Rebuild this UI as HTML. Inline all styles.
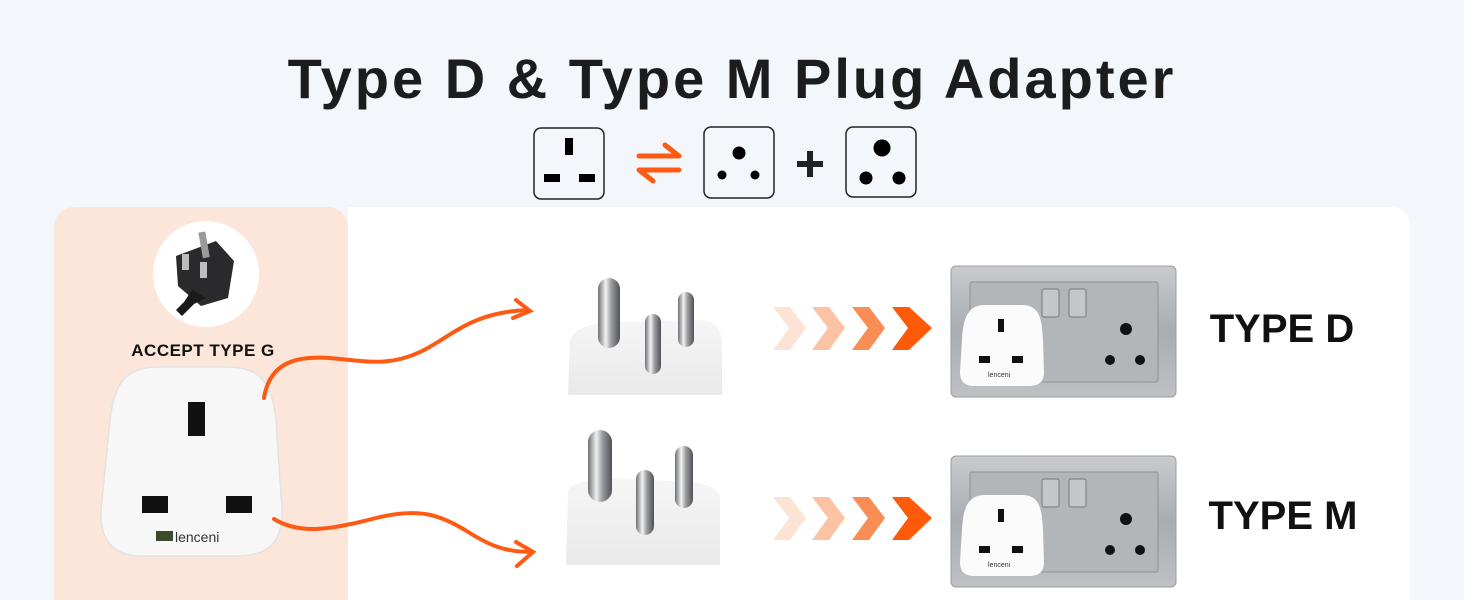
<!DOCTYPE html>
<html><head><meta charset="utf-8"><style>
html,body{margin:0;padding:0;width:1464px;height:600px;overflow:hidden;background:#f3f7fb;font-family:"Liberation Sans",sans-serif}
</style></head><body>
<svg width="1464" height="600" viewBox="0 0 1464 600" xmlns="http://www.w3.org/2000/svg">
<defs>
<linearGradient id="plate" x1="0" y1="0" x2="0" y2="1"><stop offset="0" stop-color="#c9cbce"/><stop offset="0.5" stop-color="#a9acb0"/><stop offset="1" stop-color="#bfc1c4"/></linearGradient>
<linearGradient id="pin" x1="0" y1="0" x2="1" y2="0"><stop offset="0" stop-color="#6d6f72"/><stop offset="0.35" stop-color="#f2f2f2"/><stop offset="0.6" stop-color="#9a9c9f"/><stop offset="1" stop-color="#4f5154"/></linearGradient>
<linearGradient id="body" x1="0" y1="0" x2="0" y2="1"><stop offset="0" stop-color="#f6f6f6"/><stop offset="1" stop-color="#e9e9e9"/></linearGradient>
</defs>
<rect x="0" y="0" width="1464" height="600" fill="#f3f7fb"/>
<path d="M348 207 H1392 a18 18 0 0 1 18 18 V600 H348 Z" fill="#ffffff"/>
<path d="M74 207 H328 a20 20 0 0 1 20 20 V600 H54 V227 a20 20 0 0 1 20 -20 Z" fill="#fce6da"/>
<text x="732" y="98" text-anchor="middle" font-family="Liberation Sans,sans-serif" font-weight="bold" font-size="56" fill="#1c1c1e" letter-spacing="3">Type D &amp; Type M Plug Adapter</text>
<!-- icons -->
<rect x="534" y="128" width="70" height="71" rx="7" fill="#f3f7fb" stroke="#222" stroke-width="1.5"/>
<rect x="565" y="138" width="8" height="17" fill="#000"/>
<rect x="544" y="174" width="16" height="8" fill="#000"/>
<rect x="579" y="174" width="16" height="8" fill="#000"/>
<g stroke="#ff5a14" stroke-width="5" stroke-linecap="round" fill="none">
<path d="M639 156 H679 M665 145 L679 156"/><path d="M679 170 H639 M653 181 L639 170"/></g>
<rect x="704" y="127" width="70" height="71" rx="7" fill="#f3f7fb" stroke="#222" stroke-width="1.5"/>
<circle cx="739" cy="153" r="6.5" fill="#000"/><circle cx="722" cy="175" r="4.5" fill="#000"/><circle cx="755" cy="175" r="4.5" fill="#000"/>
<path d="M797 164 H823 M810 151 V177" stroke="#222" stroke-width="6"/>
<rect x="846" y="127" width="70" height="70" rx="7" fill="#f3f7fb" stroke="#222" stroke-width="1.5"/>
<circle cx="882" cy="148" r="8.5" fill="#000"/><circle cx="866" cy="178" r="6.5" fill="#000"/><circle cx="899" cy="178" r="6.5" fill="#000"/>
<!-- left type G plug -->
<circle cx="206" cy="274" r="53" fill="#fff"/>
<g transform="translate(206,276)">
<path d="M-30 -20 L10 -35 L28 -15 L22 22 L-5 30 L-28 10 Z" fill="#2a2a2c"/>
<path d="M-14 14 L-22 26 L-30 34 L-24 40 L-12 28 L0 22 Z" fill="#1a1a1a"/>
<rect x="0" y="-44" width="7" height="26" fill="#9a9a9a" transform="rotate(-10)"/>
<rect x="-24" y="-22" width="7" height="16" fill="#bdbdbd"/>
<rect x="-6" y="-14" width="7" height="16" fill="#bdbdbd"/>
</g>
<text x="203" y="356" text-anchor="middle" font-weight="bold" font-size="17" fill="#111" letter-spacing="0.5">ACCEPT TYPE G</text>
<path d="M158 367 H228 C262 367 272 385 276 420 L282 510 C283 540 270 555 240 556 H140 C112 555 100 540 101 510 L110 420 C114 385 124 367 158 367 Z" fill="#f7f7f7" stroke="#e2e2e2" stroke-width="1.5"/>
<rect x="188" y="402" width="17" height="34" fill="#111"/>
<rect x="142" y="496" width="26" height="17" fill="#111"/>
<rect x="226" y="496" width="26" height="17" fill="#111"/>
<rect x="156" y="531" width="17" height="10" fill="#3a4a2a"/>
<text x="175" y="542" font-size="14" fill="#333">lenceni</text>
<!-- curves -->
<g stroke="#ff5a14" stroke-width="4" fill="none" stroke-linecap="round">
<path d="M264 398 C270 360 300 356 330 358 C370 362 390 366 420 352 C450 338 470 312 528 310"/>
<path d="M516 300 L530 311 L513 318"/>
<path d="M274 519 C300 535 330 530 380 517 C420 508 440 515 465 530 C490 546 505 552 532 552"/>
<path d="M516 542 L533 552 L517 566"/>
</g>
<!-- type D plug -->
<g>
<path d="M570 340 Q575 325 610 322 L700 320 Q722 320 722 345 L722 395 H568 Z" fill="url(#body)"/>
<rect x="598" y="278" width="22" height="70" rx="11" fill="url(#pin)"/>
<rect x="645" y="314" width="16" height="60" rx="8" fill="url(#pin)"/>
<rect x="678" y="292" width="16" height="55" rx="8" fill="url(#pin)"/>
</g>
<g>
<path d="M568 490 Q575 480 610 478 L690 482 Q720 485 720 500 L720 565 H566 Z" fill="url(#body)"/>
<rect x="588" y="430" width="24" height="72" rx="12" fill="url(#pin)"/>
<rect x="636" y="470" width="18" height="65" rx="9" fill="url(#pin)"/>
<rect x="675" y="446" width="18" height="62" rx="9" fill="url(#pin)"/>
</g>
<!-- chevrons -->
<g id="chev">
<path d="M773 307 H790 L806 328 L790 350 H773 L789 328 Z" fill="#fde3d6"/>
<path d="M812 307 H829 L845 328 L829 350 H812 L828 328 Z" fill="#fbc3a4"/>
<path d="M852 307 H869 L885 328 L869 350 H852 L868 328 Z" fill="#fa8d55"/>
<path d="M892 307 H909 L932 328 L909 350 H892 L908 328 Z" fill="#ff5a0a"/>
</g>
<use href="#chev" y="190"/>
<!-- sockets -->
<g id="sock">
<rect x="951" y="266" width="225" height="131" rx="5" fill="url(#plate)" stroke="#9a9da0"/>
<rect x="970" y="282" width="188" height="100" rx="2" fill="#b3b6b9" stroke="#8e9194"/>
<rect x="1042" y="289" width="17" height="28" rx="2" fill="#c4c6c8" stroke="#777"/>
<rect x="1069" y="289" width="17" height="28" rx="2" fill="#c4c6c8" stroke="#777"/>
<circle cx="1126" cy="329" r="6" fill="#111"/>
<circle cx="1110" cy="360" r="5" fill="#111"/>
<circle cx="1140" cy="360" r="5" fill="#111"/>
<path d="M985 305 H1022 C1040 305 1042 320 1043 340 L1044 372 C1044 383 1038 386 1028 386 H975 C965 386 960 382 960 372 L962 340 C963 318 968 305 985 305 Z" fill="#fbfbfb"/>
<rect x="998" y="319" width="6" height="13" fill="#111"/>
<rect x="979" y="356" width="11" height="7" fill="#111"/>
<rect x="1012" y="356" width="11" height="7" fill="#111"/>
<text x="988" y="377" font-size="7" fill="#333">lenceni</text>
</g>
<use href="#sock" y="190"/>
<text x="1282" y="342" text-anchor="middle" font-weight="bold" font-size="40" fill="#111">TYPE D</text>
<text x="1283" y="529" text-anchor="middle" font-weight="bold" font-size="40" fill="#111">TYPE M</text>
</svg>
</body></html>
